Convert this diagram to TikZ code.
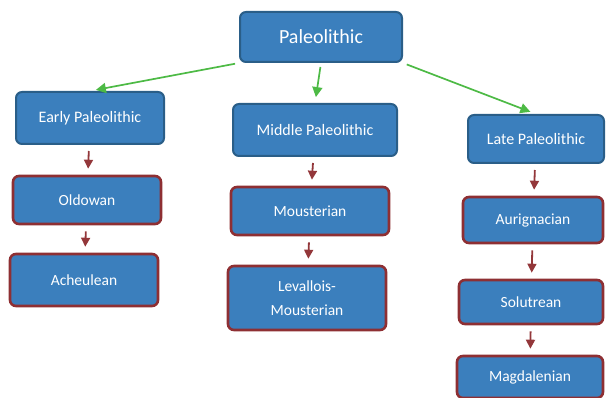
\documentclass[tikz,border=0pt]{standalone}
\usepackage{fontspec}
\setmainfont{Carlito}
\usetikzlibrary{arrows.meta,positioning}
\definecolor{boxblue}{HTML}{3B7FBD}
\definecolor{periodedge}{HTML}{2A5E88}
\definecolor{cultureedge}{HTML}{8E2F33}
\definecolor{greenarrow}{HTML}{4DBA45}
\definecolor{redarrow}{HTML}{93373A}
\tikzset{
  period/.style={draw=periodedge, fill=boxblue, line width=2pt, rounded corners=6pt,
    text=white, align=center, font=\fontsize{16}{19}\selectfont,
    minimum width=148pt, minimum height=52pt},
  culture/.style={period, draw=cultureedge, line width=2.6pt, minimum height=48pt,
    font=\fontsize{15.5}{24}\selectfont},
  greenlink/.style={draw=greenarrow, line width=1.7pt, -{Triangle[length=10pt,width=10pt]},
    shorten <=4pt, shorten >=6pt},
  redlink/.style={draw=redarrow, line width=1.8pt, -{Triangle[length=9pt,width=9pt]},
    shorten <=6pt, shorten >=6pt}
}
\begin{document}
\begin{tikzpicture}[x=1pt,y=-1pt]
      \useasboundingbox (0,0) rectangle (607,398);
      %% top level
      \node (paleo) [period, minimum width=162pt, minimum height=50pt,
        font=\fontsize{20}{24}\selectfont] at (321,37) {Paleolithic};
      %% periods
      \node (early) [period] at (90,118) {Early Paleolithic};
      \node (middle) [period, minimum width=164pt] at (315,130) {Middle Paleolithic};
      \node (late) [period, minimum width=136pt, minimum height=48pt] at (536,139) {Late Paleolithic};
      %% cultures
      \node (oldowan) [culture] at (87,200) {Oldowan};
      \node (acheul) [culture, minimum height=52pt] at (84,280) {Acheulean};
      \node (moust) [culture, minimum width=158pt] at (310,211) {Mousterian};
      \node (leval) [culture, minimum width=158pt, minimum height=64pt] at (307,298) {Levallois-\\Mousterian};
      \node (aurig) [culture, minimum width=140pt, minimum height=46pt] at (533,220) {Aurignacian};
      \node (solut) [culture, minimum width=144pt, minimum height=44pt] at (531,302) {Solutrean};
      \node (magda) [culture, minimum width=146pt, minimum height=42pt] at (530,377) {Magdalenian};

      \draw[greenlink] (paleo.south west) -- (early.north);
      \draw[greenlink] (paleo.south) -- (middle.north);
      \draw[greenlink] (paleo.south east) -- (late.north);

      \draw[redlink] (early) -- (oldowan);
      \draw[redlink] (oldowan) -- (acheul);
      \draw[redlink] (middle) -- (moust);
      \draw[redlink] (moust) -- (leval);
      \draw[redlink] (late) -- (aurig);
      \draw[redlink] (aurig) -- (solut);
      \draw[redlink] (solut) -- (magda);
    \end{tikzpicture}
\end{document}
